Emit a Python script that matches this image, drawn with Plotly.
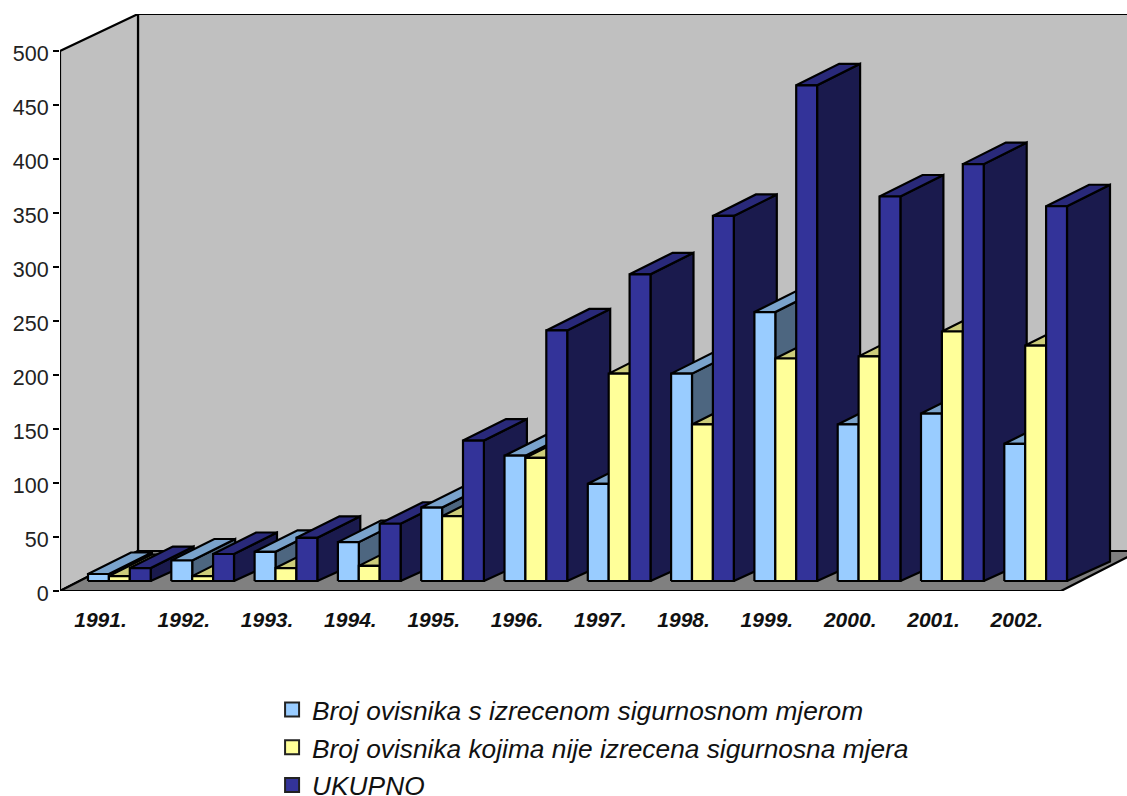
import plotly.graph_objects as go

years = ["1991.", "1992.", "1993.", "1994.", "1995.", "1996.", "1997.", "1998.", "1999.", "2000.", "2001.", "2002."]
izrecena = [6.5, 19, 27, 36, 68, 116, 90, 192, 249, 145, 155, 127]
nije_izrecena = [4.5, 4.5, 12, 14, 60, 114, 192, 145, 206, 208, 231, 218]
ukupno = [12, 25, 40, 53, 130, 232, 284, 338, 459, 356, 386, 347]
y_ticks = [0, 50, 100, 150, 200, 250, 300, 350, 400, 450, 500]

series_names = ["Broj ovisnika s izrecenom sigurnosnom mjerom",
                "Broj ovisnika kojima nije izrecena sigurnosna mjera",
                "UKUPNO"]
series_values = [izrecena, nije_izrecena, ukupno]
# front, top, side colours
palette = [("#99CCFF", "#7AA3CC", "#4D6680"),
           ("#FFFF99", "#CCCC7A", "#80804D"),
           ("#333399", "#29297A", "#1A1A4D")]

W, H = 1127, 796
PX_X = 83.3     # pixels per category
PX_Y = 1.08     # pixels per value unit
L, T, B = 60, 14, 591
x_first = 100.5   # pixel centre of first category

x0 = (L - x_first) / PX_X
x1 = (W - x_first) / PX_X
y1 = (B - T) / PX_Y

wall_dx = 78 / PX_X
floor_w = 1001 / PX_X
floor_dy = 40 / PX_Y

bar_start = -12.5 / PX_X
bar_w = 20.9 / PX_X
bar_base = 10 / PX_Y
bar_dx = 43 / PX_X
bar_dy_base = 19.5 / PX_Y
bar_dy_top = 21.5 / PX_Y

fig = go.Figure()


def poly(xs, ys, fill, line_w=2.2, line_color="#000000", clip=True):
    fig.add_trace(go.Scatter(
        x=list(xs) + [xs[0]], y=list(ys) + [ys[0]], mode="lines", fill="toself",
        fillcolor=fill, line=dict(color=line_color, width=line_w),
        showlegend=False, hoverinfo="skip", cliponaxis=clip))


# walls and floor
bx = x0 + wall_dx
poly([bx, x1 + 1, x1 + 1, bx], [floor_dy, floor_dy, y1, y1], "#C0C0C0", clip=False)
poly([x0, bx, bx, x0], [0, floor_dy, y1, 500], "#C0C0C0", clip=False)
poly([x0, x0 + floor_w, x0 + floor_w + wall_dx, bx], [0, 0, floor_dy, floor_dy], "#808080", clip=False)

# bars, painted left to right
for i in range(len(years)):
    for s, vals in enumerate(series_values):
        v = vals[i]
        xl = i + bar_start + s * bar_w
        xr = xl + bar_w
        yb = bar_base
        yt = bar_base + v
        front, top, side = palette[s]
        poly([xr, xr + bar_dx, xr + bar_dx, xr], [yb, yb + bar_dy_base, yt + bar_dy_top, yt], side)
        poly([xl, xr, xr + bar_dx, xl + bar_dx], [yt, yt, yt + bar_dy_top, yt + bar_dy_top], top)
        poly([xl, xr, xr, xl], [yb, yb, yt, yt], front)

# legend entries
for s, name in enumerate(series_names):
    fig.add_trace(go.Scatter(
        x=[None], y=[None], mode="markers", name=name, legendgroup=name,
        marker=dict(symbol="square", size=14, color=palette[s][0],
                    line=dict(color="#222222", width=2)),
        hoverinfo="skip"))

fig.update_layout(
    width=W, height=H, autosize=False,
    margin=dict(l=L, r=0, t=T, b=H - B, pad=0, autoexpand=False),
    paper_bgcolor="#FFFFFF", plot_bgcolor="#FFFFFF",
    font=dict(family="Liberation Sans, Arial, sans-serif", color="#000000"),
    showlegend=True,
    legend=dict(x=224 / W, xref="paper", xanchor="left",
                y=(H - 686) / H, yref="container", yanchor="top",
                orientation="v", traceorder="grouped", tracegroupgap=0.5,
                bgcolor="rgba(0,0,0,0)", borderwidth=0, itemclick=False, itemdoubleclick=False,
                font=dict(size=26.3, color="#111111",
                          family="Liberation Sans, Arial, sans-serif", style="italic")),
    xaxis=dict(range=[x0, x1], tickmode="array", tickvals=list(range(len(years))), ticktext=years,
               showgrid=False, zeroline=False, showline=False, ticks="",
               tickfont=dict(size=21, color="#111111", weight="bold", style="italic",
                             family="Liberation Sans, Arial, sans-serif"),
               ticklabelstandoff=14),
    yaxis=dict(range=[0, y1], tickmode="array", tickvals=y_ticks,
               showgrid=False, zeroline=False, showline=False,
               ticks="outside", ticklen=6, tickwidth=2, tickcolor="#000000", ticklabelshift=2,
               tickfont=dict(size=21.5, color="#222222",
                             family="Liberation Sans, Arial, sans-serif")),
)

fig.write_html("out.html", post_script="document.body.style.margin='0';document.body.style.overflow='hidden';",
               config={"displayModeBar": False})
